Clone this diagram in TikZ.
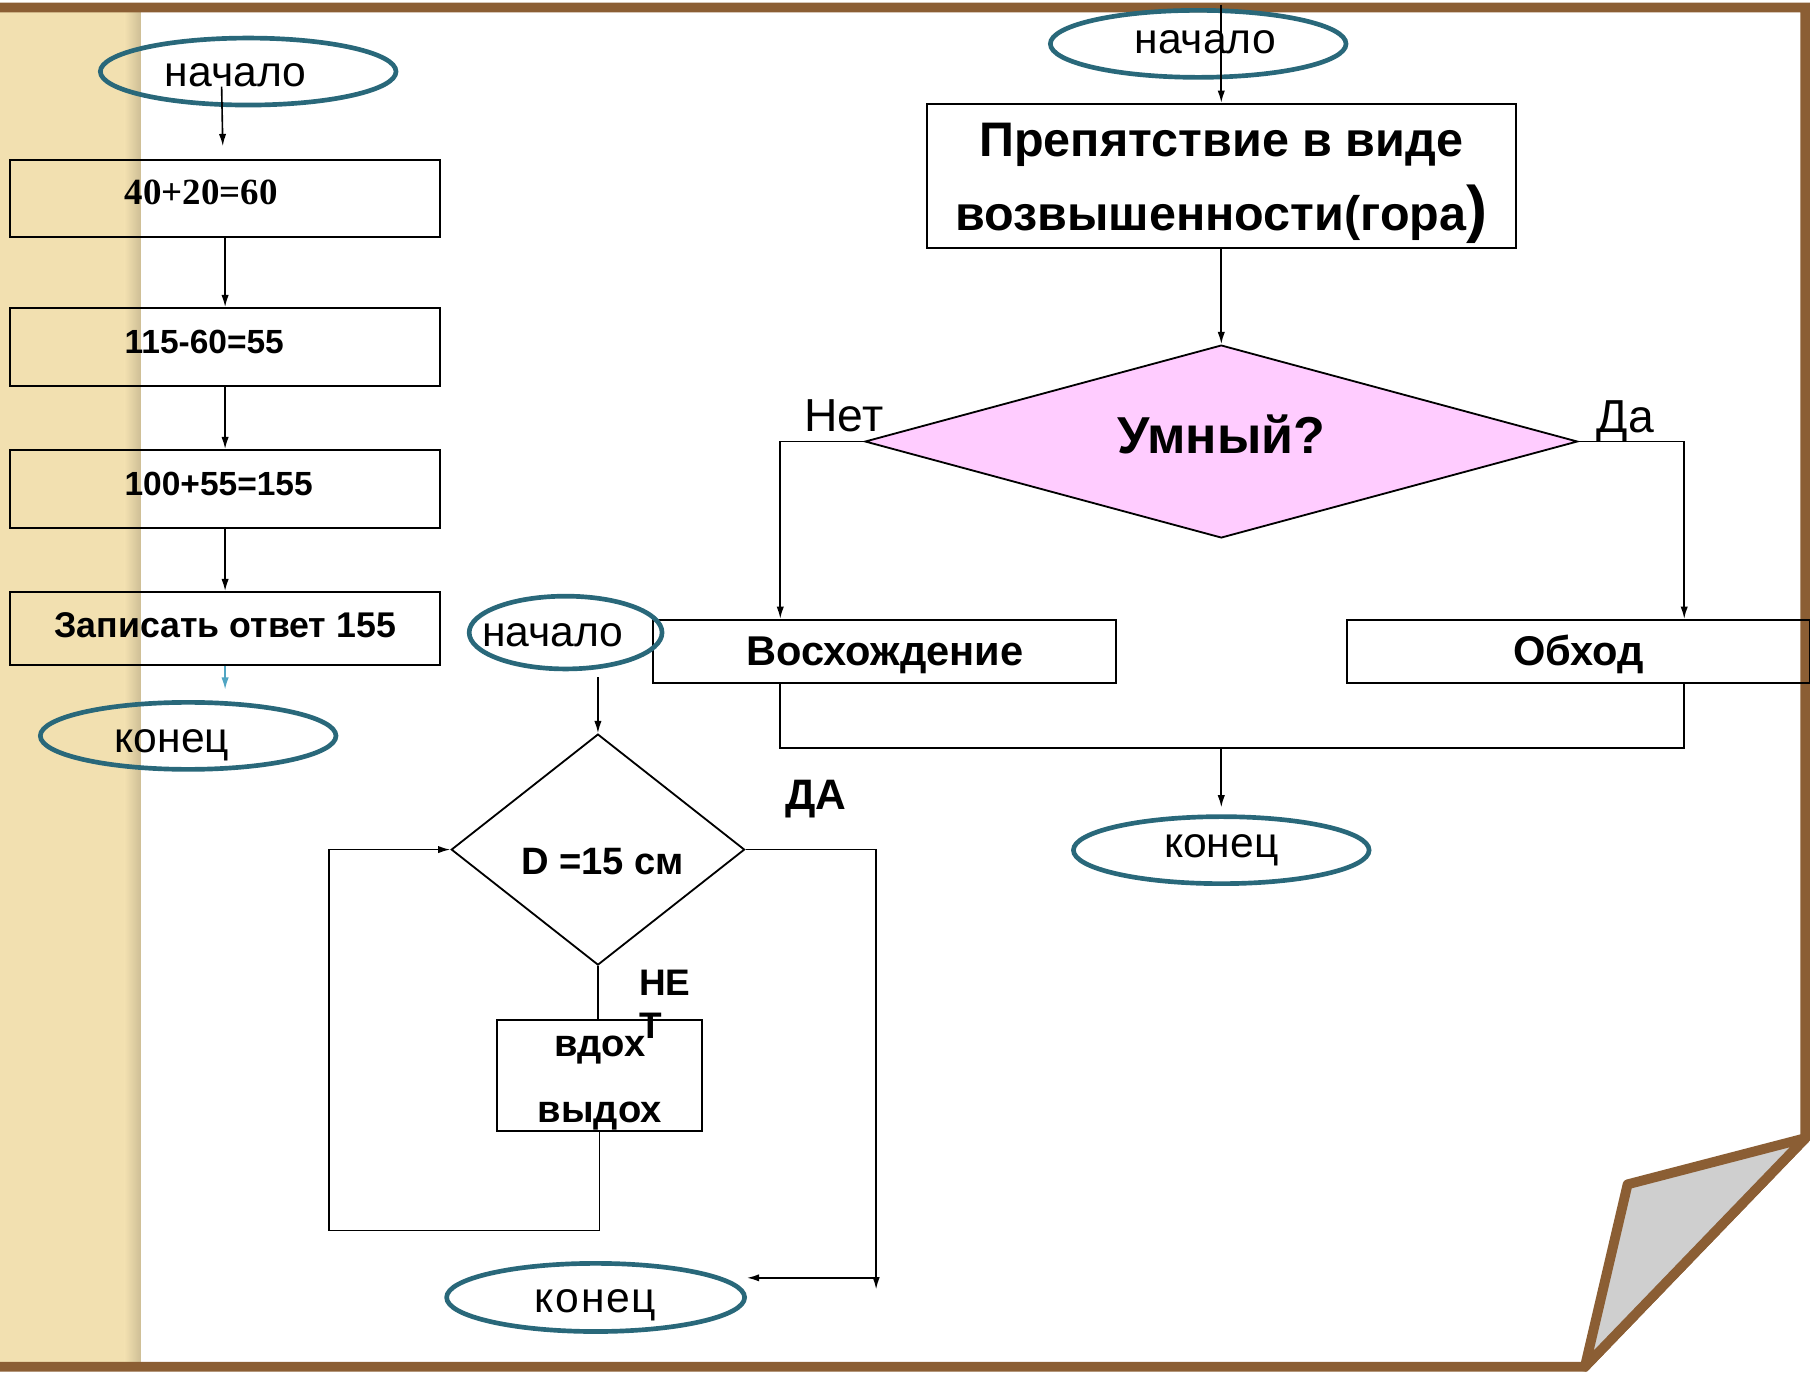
\documentclass[tikz,border=0pt]{standalone}
\usepackage{fontspec}
\setmainfont{Liberation Sans}
\newfontfamily\romanfont{Liberation Serif}
\usetikzlibrary{shapes.geometric,arrows.meta,calc}

\definecolor{page edge}{RGB}{139,94,52}
\definecolor{oval edge}{RGB}{41,104,122}
\definecolor{strip}{RGB}{242,224,176}
\definecolor{smart fill}{RGB}{255,204,255}
\definecolor{curl}{RGB}{207,207,207}
\definecolor{last arrow}{RGB}{80,165,195}
\colorlet{strip shadow}{strip!85!black}
\tikzset{
  terminal/.style={ellipse, draw=oval edge, line width=1.15pt, inner sep=0pt, text depth=0pt,
    minimum width=2.56cm, minimum height=0.58cm, font=\fontsize{10.5}{12}\selectfont},
  calc box/.style={rectangle, draw, line width=0.5pt, minimum width=3.72cm, minimum height=0.67cm,
    inner xsep=0.99cm, text width=1.74cm, align=left, text height=3.1pt, text depth=0pt,
    font=\bfseries\fontsize{8.25}{10}\selectfont},
  block/.style={rectangle, draw, line width=0.5pt, inner sep=0pt, font=\bfseries\fontsize{10.25}{12}\selectfont},
  question/.style={diamond, draw, line width=0.45pt, inner sep=0pt}
  }
\tikzstyle{edge} = [draw, thin, -]
\tikzstyle{arrow} = [draw, thin, -{Latex[length=3pt,width=1.8pt]}]

\begin{document}
\begin{tikzpicture}[x=0.01cm, y=-0.01cm]
  % page with the curled corner
  \useasboundingbox (0,0) rectangle (1568,1189);
  \fill[white] (0,0) rectangle (1568,1189);
  \fill[strip] (0,10) rectangle (122,1180);
  \shade[left color=strip, right color=strip shadow] (108,10) rectangle (122,1180);
  \draw[page edge, line width=0.085cm] (0,6.5) -- (1564,6.5) -- (1564,986) -- (1373,1184) -- (0,1184);
  \filldraw[fill=curl, draw=page edge, line width=0.085cm, line join=round] (1564,986) -- (1410,1026) -- (1373,1184) -- cycle;

  % left chart
  \node[terminal, text height=7.4pt] (start1) at (215,62) {\hspace*{-0.22cm}начало};
  \foreach \pos/\name/\txt in {{(195,172)/b1/{\romanfont\fontsize{9.1}{11}\selectfont 40+20=60}}, {(195,300.5)/b2/115-60=55}, {(195,423.5)/b3/100+55=155}} {
    \node[calc box] (\name) at \pos {\txt};
  }
  \node[block, minimum width=3.72cm, minimum height=0.63cm, text height=4.3pt, text depth=0pt,
    font=\bfseries\fontsize{8.8}{10}\selectfont] (b4) at (195,544.5) {Записать ответ 155};
  \node[terminal, text height=8.25pt] (end1) at (163,637.5) {\hspace*{-0.28cm}конец};
  \draw[arrow] ([shift={(-23,13)}]start1.center) -- ([shift={(-2,-11)}]b1.north);
  \draw[arrow] (b1) -- (b2);
  \draw[arrow] (b2) -- (b3);
  \draw[arrow] (b3) -- (b4);
  \draw[arrow, last arrow, shorten >=0.09cm] (b4.south) -- (b4.south |- end1.north);

  % right chart
  \node[terminal, text height=4.55pt] (start2) at (1038,38) {\hspace*{0.12cm}начало};
  \node[block, minimum width=5.1cm, minimum height=1.25cm, align=center, text height=26.75pt, text depth=0pt,
    font=\bfseries\fontsize{11.95}{18.2}\selectfont] (obstacle) at (1058,152.5) {Препятствие в виде\\возвышенности(гора{\fontsize{15.5}{18.2}\selectfont)}};
  \node[question, fill=smart fill, minimum width=6.17cm, minimum height=1.67cm, aspect=3.7, text height=6pt, text depth=0pt,
    font=\bfseries\fontsize{12.8}{15}\selectfont] (smart) at (1058,382.5) {Умный?};
  \node[block, minimum width=4.01cm, minimum height=0.55cm, text height=6.8pt, text depth=0pt] (climb) at (766.5,564.5) {Восхождение};
  \node[block, minimum width=4.01cm, minimum height=0.55cm, text height=6.8pt, text depth=0pt] (bypass) at (1367.5,564.5) {Обход};
  \node[terminal, text height=3.7pt] (end2) at (1058,736.5) {конец};
  \node[font=\fontsize{11.4}{13}\selectfont] (no) at (731,360) {Нет};
  \node[font=\fontsize{11.4}{13}\selectfont] (yes) at (1408,365) {Да};
  \coordinate (join) at (1058,648);
  \draw[arrow] ($(obstacle.north |- start2.north)+(0,-3)$) -- (obstacle.north);
  \draw[arrow] (obstacle) -- (smart);
  \draw[arrow] (smart.west) -| ([xshift=-0.905cm]climb.north);
  \draw[arrow] (smart.east) -| ([xshift=0.915cm]bypass.north);
  \draw[edge] ([xshift=-0.905cm]climb.south) |- (join) -| ([xshift=0.915cm]bypass.south);
  \draw[arrow, shorten >=0.06cm] (join) -- (end2);

  % middle chart
  \node[terminal, minimum width=1.67cm, minimum height=0.63cm, text height=6.8pt] (start3) at (490,548) {\hspace*{-0.22cm}начало};
  \node[question, minimum width=2.54cm, minimum height=2cm, aspect=1.27, text height=12.5pt, text depth=0pt,
    font=\bfseries\fontsize{9.4}{11}\selectfont] (depth) at (518,736) {\hspace*{0.08cm}D =15 см};
  \node[block, minimum width=1.78cm, minimum height=0.96cm, align=center, text height=22.8pt, text depth=0pt,
    font=\bfseries\fontsize{9.4}{16.2}\selectfont] (breath) at (519.5,932) {вдох\\выдох};
  \node[terminal, minimum width=2.58cm, minimum height=0.59cm, text height=7.4pt,
    font=\fontsize{10.5}{12}\selectfont\addfontfeature{LetterSpace=4}] (end3) at (516,1124) {конец};
  \node[font=\bfseries\fontsize{10.5}{12}\selectfont] (da) at (707,692) {ДА};
  \node[align=left, anchor=north west, inner sep=0pt, font=\bfseries\fontsize{9.1}{10.5}\selectfont] (net) at (553,840) {НЕ\\Т};
  \coordinate (loop) at (285,1066);
  \coordinate (exit) at (759,1107);
  \draw[arrow, shorten <=0.05cm] (depth.north |- start3.south) -- (depth.north);
  \draw[edge] (depth.south) -- (depth.south |- breath.north);
  \draw[arrow] (breath.south) |- (loop) |- (depth.west);
  \draw[arrow] (depth.east) -| ($(exit)+(0,10)$);
  \draw[arrow] (exit) -- (exit -| end3.east);
\end{tikzpicture}
\end{document}
